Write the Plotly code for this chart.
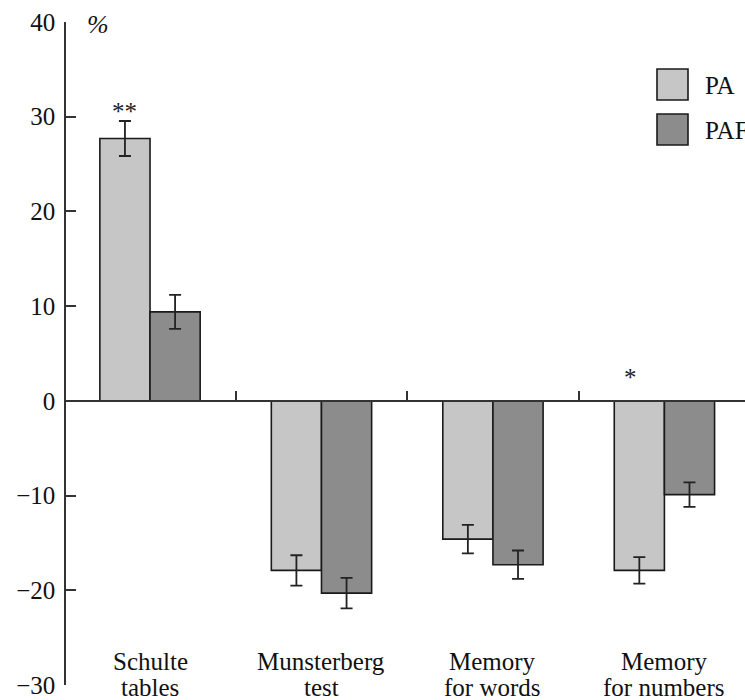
import plotly.graph_objects as go

categories = ["Schulte", "Munsterberg", "Memory", "Memory"]
categories_line2 = ["tables", "test", "for words", "for numbers"]
pa_values = [27.7, -17.9, -14.6, -17.9]
pa_errors = [1.85, 1.6, 1.5, 1.4]
paf_values = [9.4, -20.3, -17.3, -9.9]
paf_errors = [1.8, 1.6, 1.5, 1.3]
significance = ["**", "", "", "*"]
y_ticks = [40, 30, 20, 10, 0, -10, -20, -30]

PA_COLOR = "#c6c6c6"
PAF_COLOR = "#8c8c8c"
FONT = "Liberation Serif, Times New Roman, serif"

W, H = 745, 700
ML, MR, MT, MB = 66, 0, 22, 15
plot_w = W - ML - MR
plot_h = H - MT - MB
y_min, y_max = -30, 40
x_min, x_max = -0.49, 3.47

x_pos = list(range(len(categories)))

fig = go.Figure()
fig.add_trace(go.Bar(
    x=x_pos, y=pa_values, name="PA",
    marker=dict(color=PA_COLOR, line=dict(color="#1a1a1a", width=1.6)),
    error_y=dict(type="data", array=pa_errors, visible=True,
                 color="#222222", thickness=1.8, width=6),
))
fig.add_trace(go.Bar(
    x=x_pos, y=paf_values, name="PAF",
    marker=dict(color=PAF_COLOR, line=dict(color="#1a1a1a", width=1.6)),
    error_y=dict(type="data", array=paf_errors, visible=True,
                 color="#222222", thickness=1.8, width=6),
))
# invisible trace on the zero-line axis so it renders
fig.add_trace(go.Scatter(x=[x_min], y=[0], xaxis="x2", mode="markers",
                         marker=dict(opacity=0), showlegend=False, hoverinfo="skip"))

def px_to_paper_y(p):
    return (MT + plot_h - p) / plot_h

def px_to_paper_x(p):
    return (p - ML) / plot_w

annotations = []
# category labels
for i, (l1, l2) in enumerate(zip(categories, categories_line2)):
    annotations.append(dict(x=i, xref="x", y=px_to_paper_y(661), yref="paper",
                            text=l1, showarrow=False, yanchor="middle",
                            font=dict(family=FONT, size=25, color="#111")))
    annotations.append(dict(x=i, xref="x", y=px_to_paper_y(687), yref="paper",
                            text=l2, showarrow=False, yanchor="middle",
                            font=dict(family=FONT, size=25, color="#111")))
# significance marks above PA bars
sig_y = {"**": px_to_paper_y(112), "*": px_to_paper_y(377)}
for i, s in enumerate(significance):
    if s:
        annotations.append(dict(x=i - 0.15 if s == "**" else i - 0.2, xref="x",
                                y=sig_y[s], yref="paper", text=s,
                                showarrow=False, yanchor="middle",
                                font=dict(family=FONT, size=25, color="#222")))
# percent sign
annotations.append(dict(x=px_to_paper_x(98), xref="paper", y=px_to_paper_y(25), yref="paper",
                        text="<i>%</i>", showarrow=False, xanchor="center", yanchor="middle",
                        font=dict(family=FONT, size=26, color="#111")))

# manual legend
shapes = []
legend_items = [("PA", PA_COLOR, 69), ("PAF", PAF_COLOR, 114)]
for name, col, top in legend_items:
    shapes.append(dict(type="rect", xref="paper", yref="paper",
                       x0=px_to_paper_x(657), x1=px_to_paper_x(688),
                       y0=px_to_paper_y(top + 31), y1=px_to_paper_y(top),
                       fillcolor=col, line=dict(color="#1a1a1a", width=1.6)))
    annotations.append(dict(x=px_to_paper_x(703), xref="paper",
                            y=px_to_paper_y(top + 16), yref="paper",
                            text=name, showarrow=False, xanchor="left", yanchor="middle",
                            font=dict(family=FONT, size=25, color="#111")))

zero_pos = (0 - y_min) / (y_max - y_min)

fig.update_layout(
    width=W, height=H,
    margin=dict(l=ML, r=MR, t=MT, b=MB),
    paper_bgcolor="white", plot_bgcolor="white",
    barmode="group", bargap=0.415, bargroupgap=0,
    showlegend=False,
    font=dict(family=FONT, size=25, color="#111"),
    xaxis=dict(range=[x_min, x_max], showline=False, showgrid=False,
               zeroline=False, showticklabels=False, ticks=""),
    xaxis2=dict(range=[x_min, x_max], overlaying="x", anchor="free",
                position=zero_pos, side="top", showline=True, linecolor="#333",
                linewidth=1.5, showgrid=False, zeroline=False,
                tickmode="array", tickvals=[0.5, 1.5, 2.5], ticks="outside",
                ticklen=9, tickwidth=1.5, tickcolor="#333", showticklabels=False),
    yaxis=dict(range=[y_min, y_max], tickmode="array", tickvals=y_ticks,
               showline=True, linecolor="#333", linewidth=1.5,
               ticks="inside", ticklen=10, tickwidth=1.5, tickcolor="#333",
               showgrid=False, zeroline=False, ticklabelstandoff=4,
               tickfont=dict(family=FONT, size=25, color="#111")),
    annotations=annotations,
    shapes=shapes,
)

fig.write_html("out.html", config={"displayModeBar": False},
               post_script="document.body.style.margin='0';document.body.style.overflow='hidden';")
